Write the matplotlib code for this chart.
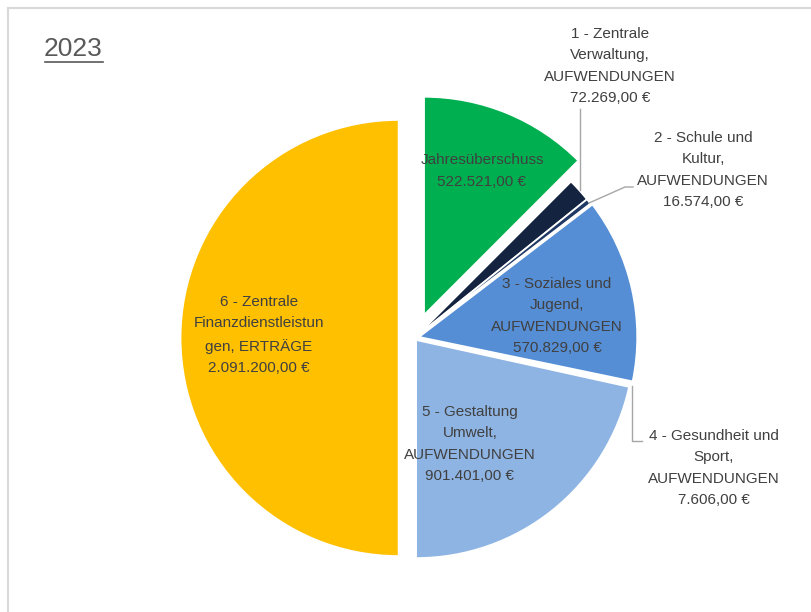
import matplotlib
matplotlib.use("Agg")
import matplotlib.pyplot as plt
from matplotlib.lines import Line2D

# data (clockwise from 12 o'clock)
labels = [
    "Jahresüberschuss",
    "1 - Zentrale\nVerwaltung,\nAUFWENDUNGEN",
    "2 - Schule und\nKultur,\nAUFWENDUNGEN",
    "3 - Soziales und\nJugend,\nAUFWENDUNGEN",
    "4 - Gesundheit und\nSport,\nAUFWENDUNGEN",
    "5 - Gestaltung\nUmwelt,\nAUFWENDUNGEN",
    "6 - Zentrale\nFinanzdienstleistun\ngen, ERTRÄGE",
]
values = [522521.00, 72269.00, 16574.00, 570829.00, 7606.00, 901401.00, 2091200.00]
value_texts = ["522.521,00 €", "72.269,00 €", "16.574,00 €", "570.829,00 €",
               "7.606,00 €", "901.401,00 €", "2.091.200,00 €"]
colors = ["#00B050", "#14233F", "#1F3864", "#558ED5", "#FFFFFF", "#8EB4E3", "#FFC000"]
explode = [0.115, 0.015, 0.015, 0.022, 0.01, 0.012, 0.073]

W, H = 812, 612
plt.rcParams['font.family'] = ['Liberation Sans', 'DejaVu Sans']

fig = plt.figure(figsize=(W / 100, H / 100), dpi=100)
ax = fig.add_axes([0, 0, 1, 1])

cx, cy, r = 414.5, H - 338, 218
# matplotlib's explode is in data units, so scale by the radius
ax.pie(values, colors=colors, explode=[e * r for e in explode], startangle=90,
       counterclock=False, center=(cx, cy), radius=r, frame=True,
       wedgeprops=dict(edgecolor="white", linewidth=1.2))
ax.set_xlim(0, W)
ax.set_ylim(0, H)
ax.set_aspect("equal")
ax.axis("off")

txt = "#404040"
fs = 11
# label positions in pixels (x, y of text center)
label_pos = [(610, 66), (703, 170), (557, 316), (714, 468), (470, 444), (259, 335)]
label_pos.insert(0, (482, 171))
for lab, val, (x, y) in zip(labels, value_texts, label_pos):
    ax.text(x, H - y, lab + "\n" + val, ha="center", va="center", fontsize=fs,
            color=txt, linespacing=1.68)

# leader lines
lc = "#A6A6A6"
ax.plot([580.5, 580.5], [H - 109, H - 190], color=lc, lw=1)
ax.plot([589, 625, 633], [H - 203, H - 187, H - 187], color=lc, lw=1)
ax.plot([632, 632, 642], [H - 386, H - 441, H - 441], color=lc, lw=1)

# title, underlined
ax.text(44, H - 49, "2023", ha="left", va="center", fontsize=19, color="#595959")
ax.plot([45, 103], [H - 62, H - 62], color="#595959", lw=1.2)

# chart frame (partly visible)
fig.add_artist(Line2D([8 / W, 8 / W], [0, 1 - 8 / H], color="#D9D9D9", lw=1.5))
fig.add_artist(Line2D([8 / W, 1], [1 - 8 / H, 1 - 8 / H], color="#D9D9D9", lw=1.5))

fig.savefig("out.png", dpi=100, facecolor="white")
